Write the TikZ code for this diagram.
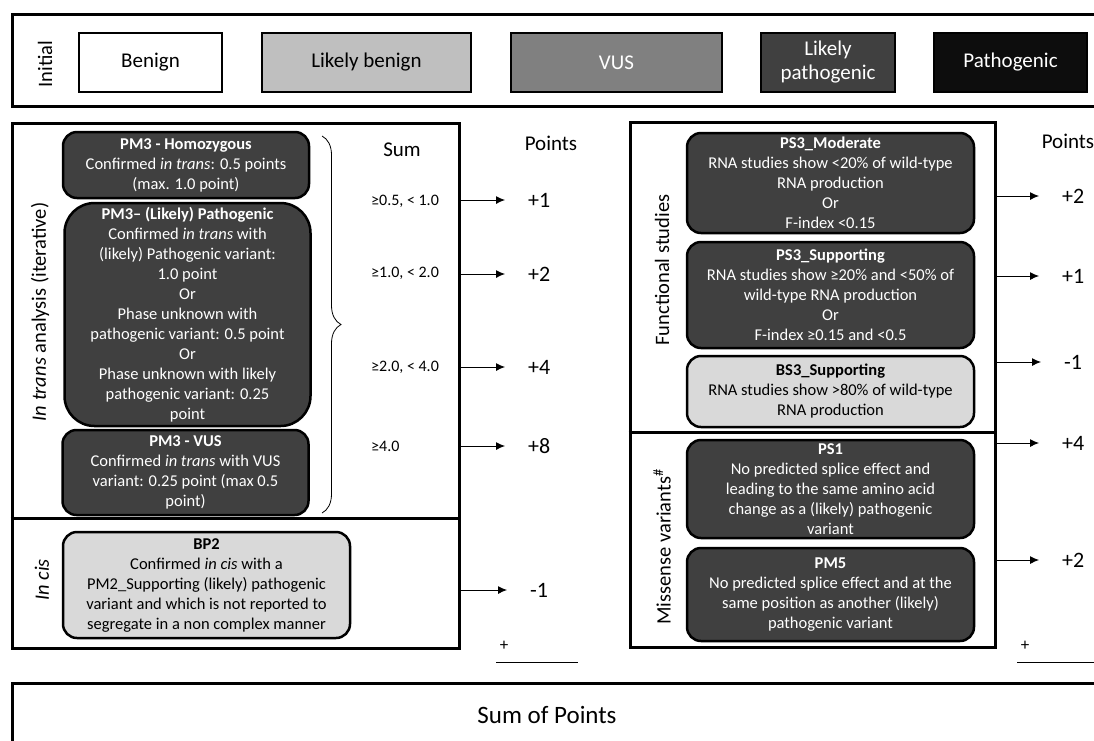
\documentclass[tikz,border=0pt]{standalone}
\usepackage{fontspec}
\setmainfont{Carlito}
\usepackage{xcolor}
\usetikzlibrary{arrows.meta,decorations.pathreplacing}

\definecolor{dgray}{HTML}{404040}
\definecolor{lgray}{HTML}{D9D9D9}
\definecolor{lbgray}{HTML}{BFBFBF}
\definecolor{vgray}{HTML}{808080}
\definecolor{pblack}{HTML}{0D0D0D}

\begin{document}
\begin{tikzpicture}[x=1pt,y=-1pt,
    panel/.style={draw,line width=3pt,inner sep=0pt},
    grade/.style={draw,line width=2.5pt,inner sep=0pt,minimum height=59pt,align=center,font=\fontsize{21}{24}\selectfont},
    crit/.style={draw,line width=2.5pt,rounded corners=14pt,fill=dgray,text=white,inner sep=0pt,minimum width=246pt,align=center,font=\fontsize{16.5}{20}\selectfont},
    side/.style={rotate=90,font=\fontsize{20.5}{24}\selectfont},
    lbl/.style={font=\fontsize{21}{24}\selectfont},
    sumval/.style={anchor=west,inner sep=0pt,font=\fontsize{16}{19}\selectfont},
    pts/.style={anchor=west,inner sep=0pt,font=\fontsize{22}{24}\selectfont},
    arr/.style={-{Latex[length=9pt,width=8pt]},line width=0.9pt,shorten >=23pt}]
  \useasboundingbox (0,0) rectangle (1094,740);
  \clip (0,0) rectangle (1094,740);

  % initial classification
  \draw[panel] (12,14) rectangle (1110,106);
  \node[side] (init) at (45,64) {Initial};
  \node[grade,minimum width=143pt,fill=white] (benign) at (150.5,62.5) {Benign};
  \node[grade,minimum width=209pt,fill=lbgray] (lbenign) at (366.5,62.5) {Likely benign};
  \node[grade,minimum width=211pt,fill=vgray,text=white] (vus) at (616.5,62.5) {VUS};
  \node[grade,minimum width=134pt,fill=dgray,text=white] (lpath) at (828,62.5) {Likely\\pathogenic};
  \node[grade,minimum width=153pt,fill=pblack,text=white] (path) at (1010.5,62.5) {Pathogenic};

  % left panel: trans / cis
  \node[panel,minimum width=447pt,minimum height=525pt] (left) at (235.5,385.5) {};
  \draw[line width=3pt] (left.west |- 0,518) -- (left.east |- 0,518);
  \node[side] (trans) at (40,312) {\textit{In trans} analysis (iterative)};
  \node[side] (cis) at (42,580) {\textit{In cis}};

  \node[crit,minimum height=66pt] (hom) at (186,165)
    {\textbf{PM3 - Homozygous}\\Confirmed \textit{in trans}: 0.5 points\\(max. 1.0 point)};
  \node[crit,minimum height=223pt,rounded corners=30pt] (lpat) at (187.5,314.5)
    {\textbf{PM3– (Likely) Pathogenic}\\Confirmed \textit{in trans} with\\(likely) Pathogenic variant:\\1.0 point\\Or\\Phase unknown with\\pathogenic variant: 0.5 point\\Or\\Phase unknown with likely\\pathogenic variant: 0.25\\point};
  \node[crit,minimum height=85pt] (pvus) at (185.5,472.5)
    {\textbf{PM3 - VUS}\\Confirmed \textit{in trans} with VUS\\variant: 0.25 point (max 0.5\\point)};
  \node[crit,minimum width=287pt,minimum height=106pt,fill=lgray,text=black] (bp2) at (206.5,585)
    {\textbf{BP2}\\Confirmed \textit{in cis} with a\\PM2\_Supporting (likely) pathogenic\\variant and which is not reported to\\segregate in a non complex manner};

  \draw[line width=0.8pt,decorate,decoration={brace,amplitude=19pt}] (322,136) -- (322,513);

  \node[lbl] (sum) at (402,150) {Sum};
  \node[lbl] (ptsl) at (551,143) {Points};
  \node[sumval] (s1) at (371,201) {≥0.5, < 1.0};
  \node[sumval] (s2) at (371,273) {≥1.0, < 2.0};
  \node[sumval] (s3) at (371,367) {≥2.0, < 4.0};
  \node[sumval] (s4) at (371,446) {≥4.0};
  \node[pts] (p1) at (528,200) {+1};
  \node[pts] (p2) at (528,274) {+2};
  \node[pts] (p3) at (528,367) {+4};
  \node[pts] (p4) at (528,446) {+8};
  \node[pts] (p5) at (530,590) {-1};
  \foreach \p in {p1,p2,p3,p4,p5}
    \draw[arr] (left.east |- \p) -- (\p.west);
  \node[font=\fontsize{17}{20}\selectfont] (plusl) at (504,646) {+};
  \draw[line width=0.8pt] (496,662) -- (578,662);

  % right panel: functional / missense
  \node[panel,minimum width=365pt,minimum height=525pt] (right) at (812.5,384.5) {};
  \draw[line width=3pt] (right.west |- 0,432) -- (right.east |- 0,432);
  \node[side] (func) at (662,270) {Functional studies};
  \node[side] (mis) at (662,547) {Missense variants\textsuperscript{\#}};

  \node[crit,minimum width=287pt,minimum height=100pt] (ps3m) at (830.5,183)
    {\textbf{PS3\_Moderate}\\RNA studies show <20\% of wild-type\\RNA production\\Or\\F-index <0.15};
  \node[crit,minimum width=287pt,minimum height=106pt] (ps3s) at (830.5,295)
    {\textbf{PS3\_Supporting}\\RNA studies show ≥20\% and <50\% of\\wild-type RNA production\\Or\\F-index ≥0.15 and <0.5};
  \node[crit,minimum width=287pt,minimum height=71pt,fill=lgray,text=black] (bs3) at (830.5,391.5)
    {\textbf{BS3\_Supporting}\\RNA studies show >80\% of wild-type\\RNA production};
  \node[crit,minimum width=287pt,minimum height=98pt] (ps1) at (830.5,489)
    {\textbf{PS1}\\No predicted splice effect and\\leading to the same amino acid\\change as a (likely) pathogenic\\variant};
  \node[crit,minimum width=287pt,minimum height=93pt] (pm5) at (830.5,594.5)
    {\textbf{PM5}\\No predicted splice effect and at the\\same position as another (likely)\\pathogenic variant};

  \node[lbl] (ptsr) at (1068,141) {Points};
  \node[pts] (r1) at (1062,196) {+2};
  \node[pts] (r2) at (1062,276) {+1};
  \node[pts] (r3) at (1064,362) {-1};
  \node[pts] (r4) at (1062,443) {+4};
  \node[pts] (r5) at (1062,560) {+2};
  \foreach \r in {r1,r2,r3,r4,r5}
    \draw[arr] (right.east |- \r) -- (\r.west);
  \node[font=\fontsize{17}{20}\selectfont] (plusr) at (1025,646) {+};
  \draw[line width=0.8pt] (1017,662) -- (1100,662);

  % total
  \draw[panel] (12,683) rectangle (1110,760);
  \node[font=\fontsize{25}{28}\selectfont] (total) at (547,715) {Sum of Points};
\end{tikzpicture}
\end{document}
